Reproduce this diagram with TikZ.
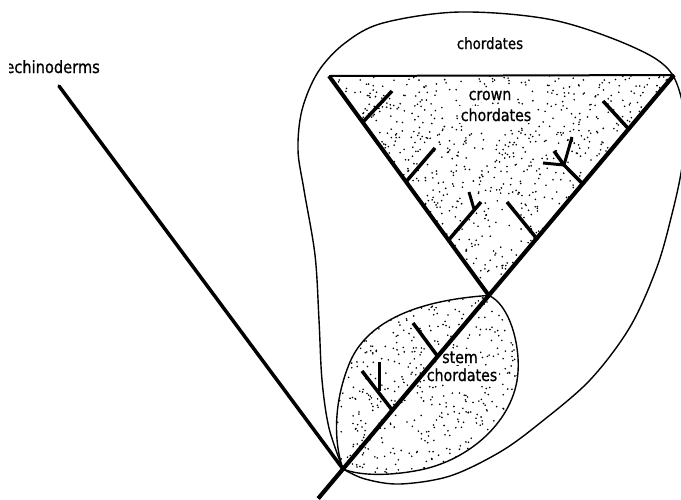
\documentclass[tikz,border=0pt]{standalone}
\usepackage{fontspec}
\newfontfamily\lblfont[FakeStretch=0.86,FakeBold=0.9]{DejaVu Sans}
\usetikzlibrary{calc}
\begin{document}
\begin{tikzpicture}[x=1pt,y=-1pt,
  branch/.style={line width=3.5pt},
  axis/.style={line width=4.2pt},
  edge/.style={line width=4pt},
  topedge/.style={line width=2pt},
  outline/.style={line width=1.4pt},
  lbl/.style={font=\lblfont\fontsize{15.5}{18}\selectfont, inner sep=1pt, anchor=base},
  lblbig/.style={lbl, font=\lblfont\fontsize{16.5}{18}\selectfont},
  clear/.style={fill=white, inner sep=2pt},
  dot/.style={fill=black}]
\useasboundingbox (0,0) rectangle (681,499);
% key points
\coordinate (R) at (343,469);
\coordinate (C) at (674,75);
\coordinate (A) at ($(R)!0.4405!(C)$);
\coordinate (L) at (329,76);
\coordinate (B) at ($(R)!-0.075!(C)$);
\coordinate (E) at (59,86);
% stipple: crown triangle
\pgfmathsetseed{17}
\begin{scope}
  \clip (L) -- (C) -- (A) -- cycle;
  \foreach \i in {1,...,1300} {\fill[dot] ({329+346*rnd},{74+222*rnd}) circle[radius=0.9];}
\end{scope}
% stipple: stem oval
\def\stemoval{(343,469) .. controls (333,440) and (334,400) .. (350,362)
  .. controls (368,320) and (420,300) .. (A)
  .. controls (510,305) and (520,345) .. (518,372)
  .. controls (515,420) and (470,460) .. (420,470)
  .. controls (390,476) and (360,476) .. (343,469)}
\begin{scope}
  \clip \stemoval -- cycle;
  \foreach \i in {1,...,600} {\fill[dot] ({335+186*rnd},{292+186*rnd}) circle[radius=0.9];}
\end{scope}
% outlines
\draw[outline] \stemoval;
\draw[outline] plot[smooth, tension=0.55] coordinates {(343,469) (329,428) (322,380) (319,320) (315,255) (304,190) (298,150) (302,110) (318,72) (345,43) (383,23) (460,12) (553,20) (633,47) (672,74) (686,125) (682,167) (673,210) (657,267) (630,327) (590,380) (540,423) (500,452) (450,476) (400,484) (365,479) (343,469)};
% labels
\node[lbl] (chord) at (490,49) {chordates};
\node[lblbig, clear] (crown1) at (490,100) {crown};
\node[lblbig, clear] (crown2) at (496,121) {chordates};
\node[lblbig, clear] (stem1) at (460,363) {stem};
\node[lblbig, clear] (stem2) at (462,381) {chordates};
\begin{scope}
  \clip (9,50) rectangle (130,90);
  \node[lbl, font=\lblfont\fontsize{17}{18}\selectfont, anchor=base east] (echi) at (101,73) {echinoderms};
\end{scope}
% echinoderms lineage
\draw[line width=3.5pt, line cap=round] (E) -- (R);
% main axis
\draw[axis] (B) -- (C);
% triangle
\draw[edge] (A) -- (L);
\draw[topedge] (L) -- (C);
% crown branches, left edge
\coordinate (l1) at ($(A)!0.789!(L)$);
\coordinate (l1e) at (392,91);
\coordinate (l2) at ($(A)!0.518!(L)$);
\coordinate (l2e) at (435,148);
\coordinate (l3) at ($(A)!0.252!(L)$);
\coordinate (l3e) at (481,202);
\coordinate (l3f) at (474,209);
\coordinate (l3g) at (469,192);
\draw[branch] (l1) -- (l1e);
\draw[branch] (l2) -- (l2e);
\draw[branch] (l3) -- (l3e);
\draw[line width=3pt] (l3f) -- (l3g);
% crown branches, right edge
\coordinate (r1) at ($(R)!0.863!(C)$);
\coordinate (r1e) at (603,101);
\coordinate (r2) at ($(R)!0.724!(C)$);
\coordinate (r2f) at (564,165);
\coordinate (r2a) at (554,151);
\coordinate (r2b) at (572,137);
\coordinate (r2c) at (543,163);
\coordinate (r3) at ($(R)!0.585!(C)$);
\coordinate (r3e) at (507,202);
\draw[branch] (r1) -- (r1e);
\draw[branch] (r2) -- (r2f) -- (r2a);
\draw[line width=3pt] (r2f) -- (r2b);
\draw[line width=3pt] (r2f) -- (r2c);
\draw[branch] (r3) -- (r3e);
% stem branches
\coordinate (s1) at ($(R)!0.286!(C)$);
\coordinate (s1e) at (413,323);
\coordinate (s2) at ($(R)!0.149!(C)$);
\coordinate (s2e) at (362,371);
\coordinate (s2f) at (379,391);
\coordinate (s2g) at (379,362);
\draw[branch] (s1) -- (s1e);
\draw[branch] (s2) -- (s2e);
\draw[line width=3pt] (s2f) -- (s2g);
\end{tikzpicture}
\end{document}
